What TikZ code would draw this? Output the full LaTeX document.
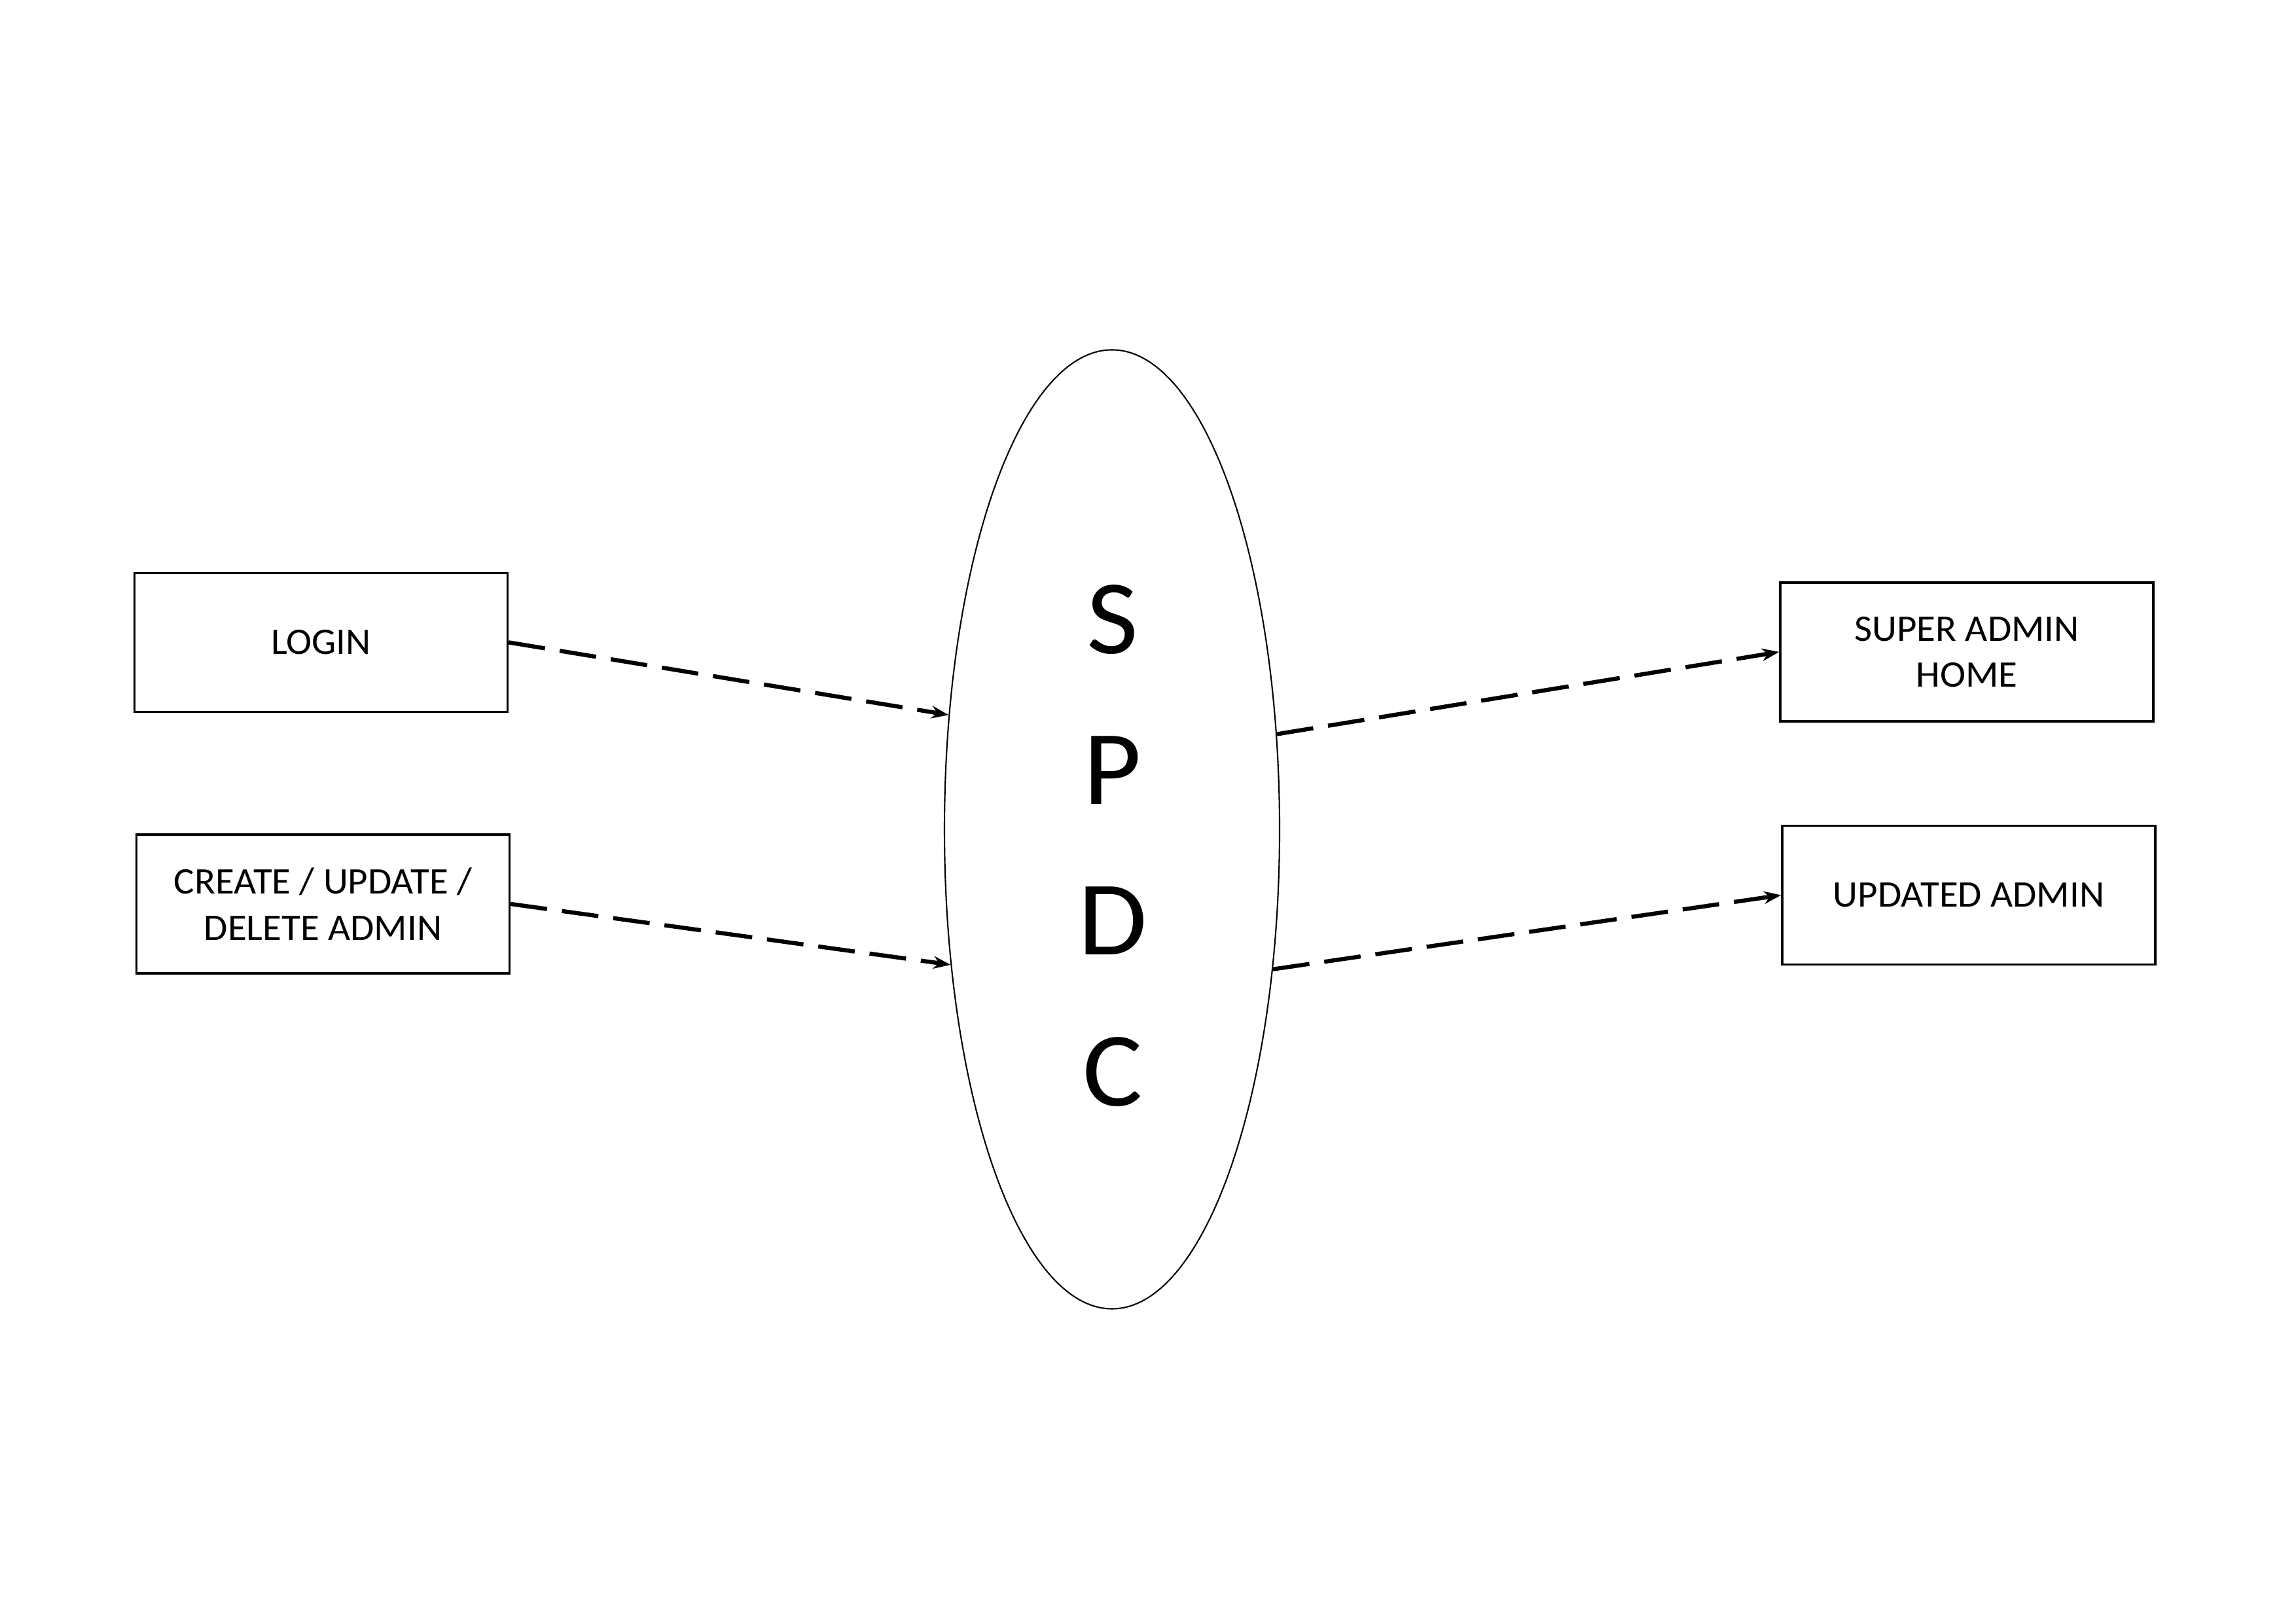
\documentclass[tikz,border=0pt]{standalone}
\usepackage{fontspec}
\setmainfont{Carlito}
\newfontfamily\boxfont[FakeStretch=1.03]{Carlito}
\newfontfamily\bigfont[FakeStretch=1.06]{Carlito}
\usetikzlibrary{shapes.geometric,arrows.meta}
\begin{document}
\begin{tikzpicture}[
  box/.style={draw, line width=0.95pt, rectangle, inner sep=0pt, minimum width=5.70cm, minimum height=2.12cm, align=center, font=\boxfont\fontsize{16.3}{20}\selectfont},
  flow/.style={draw, line width=1.8pt, dash pattern=on 16pt off 6.5pt, -{Stealth[length=7.5pt,width=5.5pt]}}
]
\useasboundingbox (0,0) rectangle (35.08,24.80);
\fill[white] (0,0) rectangle (35.08,24.80);
\node[box] (login) at (4.905,14.986) {LOGIN};
\node[box] (cud) at (4.935,10.99) {CREATE / UPDATE /\\DELETE ADMIN};
\node[draw, ellipse, line width=0.6pt, inner sep=0pt, minimum width=5.12cm, minimum height=14.65cm] (spdc) at (16.99,12.13) {};
\node[align=center, font=\bigfont\fontsize{46}{65.5}\selectfont, inner sep=0pt] (spdctext) at (17.0,11.88) {S\\P\\D\\C};
\node[box] (home) at (30.05,14.84) {SUPER ADMIN\\HOME};
\node[box] (upd) at (30.08,11.125) {UPDATED ADMIN};
\draw[flow] (login.east) -- (spdc.145.6);
\draw[flow] (cud.east) -- (spdc.220.9);
\draw[flow] (spdc.30) -- (home.west);
\draw[flow] (spdc.319.3) -- (upd.west);
\end{tikzpicture}
\end{document}
